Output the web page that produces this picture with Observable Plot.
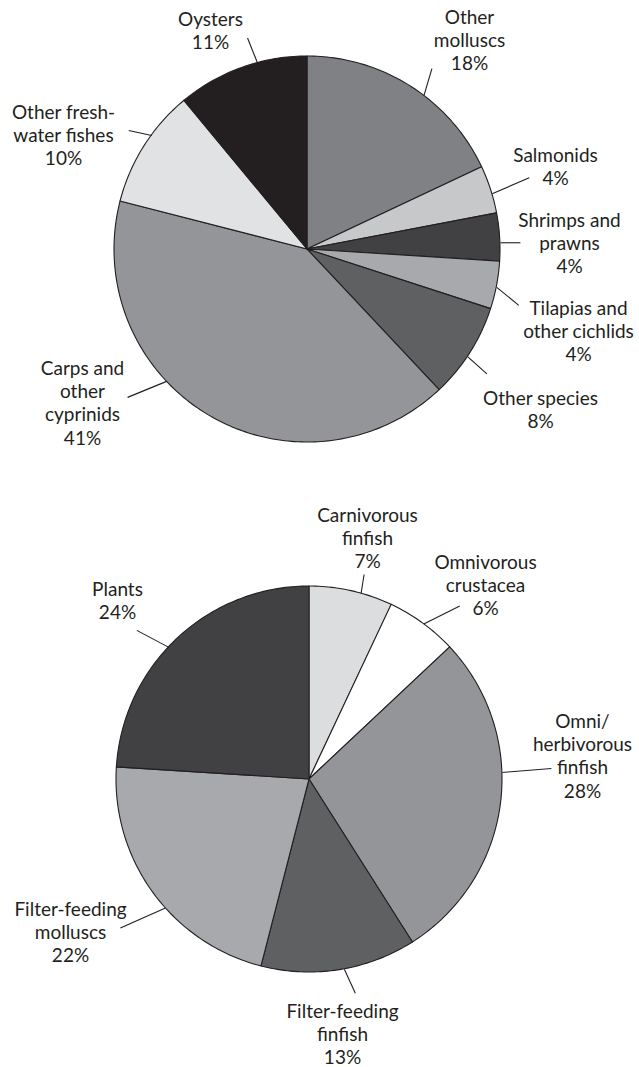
<!DOCTYPE html>
<html>
<head>
<meta charset="utf-8">
<script src="https://cdn.jsdelivr.net/npm/d3@7"></script>
<script src="https://cdn.jsdelivr.net/npm/@observablehq/plot@0.6"></script>
<style>
  html, body { margin: 0; padding: 0; background: #fff; overflow: hidden; }
</style>
</head>
<body>
<div id="chart"></div>
<script>
// ---------- DATA ----------
const speciesCategories = ["Other molluscs", "Salmonids", "Shrimps and prawns", "Tilapias and other cichlids",
  "Other species", "Carps and other cyprinids", "Other freshwater fishes", "Oysters"];
const speciesShares = [18, 4, 4, 4, 8, 41, 10, 11];
const speciesLabelText = ["Other\nmolluscs", "Salmonids", "Shrimps and\nprawns", "Tilapias and\nother cichlids",
  "Other species", "Carps and\nother\ncyprinids", "Other fresh-\nwater fishes", "Oysters"];

const feedCategories = ["Carnivorous finfish", "Omnivorous crustacea", "Omni/herbivorous finfish",
  "Filter-feeding finfish", "Filter-feeding molluscs", "Plants"];
const feedShares = [7, 6, 28, 13, 22, 24];
const feedLabelText = ["Carnivorous\nfinfish", "Omnivorous\ncrustacea", "Omni/\nherbivorous\nfinfish",
  "Filter-feeding\nfinfish", "Filter-feeding\nmolluscs", "Plants"];

// ---------- STYLES ----------
const speciesColors = ["#808184", "#c7c8ca", "#414042", "#a7a9ac", "#5f6062", "#939598", "#e1e2e3", "#231f20"];
const feedColors = ["#dcdddf", "#ffffff", "#939598", "#5f6062", "#a7a9ac", "#414042"];
const ink = "#231f20";

// ---------- LAYOUT ----------
const W = 639, H = 1067, FS = 19, LH = 23.5;
const speciesGeom = {cx: 307, cy: 249, r: 193};
const feedGeom = {cx: 309, cy: 779, r: 193};
// leader start angle (deg, clockwise from 12 o'clock), leader end offset, text block centre x / first baseline (relative to pie centre)
const speciesLabelLayout = [
  {a: 37.1, ldx: 8, ldy: -27, tx: 162, ty: -226},
  {a: 73.2, ldx: 37, ldy: -16, tx: 248, ty: -88},
  {a: 88.0, ldx: 20, ldy: 0, tx: 262, ty: -23},
  {a: 101.3, ldx: 22, ldy: 18, tx: 271, ty: 65},
  {a: 123.8, ldx: 19, ldy: 17, tx: 233, ty: 155},
  {a: 226.9, ldx: -39, ldy: 16, tx: -225, ty: 125},
  {a: 306.2, ldx: -23, ldy: -5, tx: -244, ty: -131},
  {a: 345.0, ldx: -10, ldy: -25, tx: -97, ty: -224}
];
const feedLabelLayout = [
  {a: 15.5, ldx: 3, ldy: -19, tx: 58, ty: -258},
  {a: 36.3, ldx: 36, ldy: -18, tx: 176, ty: -211},
  {a: 87.9, ldx: 49, ldy: -4, tx: 273, ty: -52},
  {a: 169.6, ldx: 11, ldy: 24, tx: 33, ty: 238},
  {a: 228.3, ldx: -45, ldy: 20, tx: -239, ty: 136},
  {a: 313.2, ldx: -32, ldy: -17, tx: -192, ty: -184}
];

// ---------- BUILD ----------
function buildPie(cats, vals, labels, layout, g) {
  const arcs = d3.pie().sort(null).value(d => d)(vals);
  const pts = [];
  arcs.forEach((a, i) => {
    const n = Math.max(2, Math.ceil((a.endAngle - a.startAngle) / (Math.PI / 180)));
    for (let k = 0; k <= n; ++k) {
      const t = a.startAngle + (a.endAngle - a.startAngle) * k / n;
      pts.push({cat: cats[i], x: g.cx + g.r * Math.sin(t), y: g.cy - g.r * Math.cos(t), x0: g.cx, y0: g.cy});
    }
  });
  const leaders = layout.map((l, i) => {
    const t = l.a * Math.PI / 180;
    const x1 = g.cx + g.r * Math.sin(t), y1 = g.cy - g.r * Math.cos(t);
    return {cat: cats[i], x1, y1, x2: x1 + l.ldx, y2: y1 + l.ldy};
  });
  const texts = layout.map((l, i) => ({
    cat: cats[i],
    text: `${labels[i]}\n${vals[i]}%`,
    x: g.cx + l.tx,
    y: g.cy + l.ty - 0.71 * LH
  }));
  return {pts, leaders, texts};
}

const pieSpecies = buildPie(speciesCategories, speciesShares, speciesLabelText, speciesLabelLayout, speciesGeom);
const pieFeed = buildPie(feedCategories, feedShares, feedLabelText, feedLabelLayout, feedGeom);

const sliceData = [...pieSpecies.pts, ...pieFeed.pts];
const leaderData = [...pieSpecies.leaders, ...pieFeed.leaders];
const textData = [...pieSpecies.texts, ...pieFeed.texts];

const chart = Plot.plot({
  width: W,
  height: H,
  margin: 0,
  style: {fontFamily: "Lato, 'Noto Sans', sans-serif", background: "#fff"},
  x: {type: "linear", domain: [0, W], range: [0, W], axis: null},
  y: {type: "linear", domain: [0, H], range: [0, H], axis: null},
  color: {domain: [...speciesCategories, ...feedCategories], range: [...speciesColors, ...feedColors]},
  marks: [
    Plot.area(sliceData, {x1: "x", y1: "y", x2: "x0", y2: "y0", z: "cat", fill: "cat",
      stroke: ink, strokeWidth: 1.1, strokeLinejoin: "round", curve: "linear"}),
    Plot.link(leaderData, {x1: "x1", y1: "y1", x2: "x2", y2: "y2", stroke: ink, strokeWidth: 1.1}),
    Plot.text(textData, {x: "x", y: "y", text: "text", textAnchor: "middle", lineAnchor: "top",
      lineHeight: LH / FS, fontSize: FS, fill: ink, fontFamily: "Lato"})
  ]
});
document.getElementById("chart").appendChild(chart);
</script>
</body>
</html>
